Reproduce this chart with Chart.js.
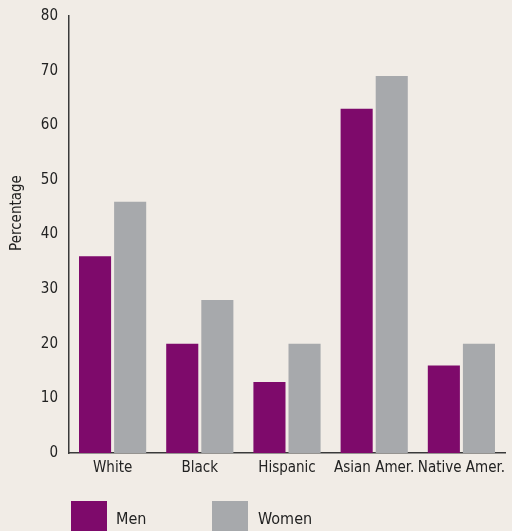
<!DOCTYPE html>
<html>
<head>
<meta charset="utf-8">
<script src="https://cdn.jsdelivr.net/npm/chart.js@4"></script>
<style>
  html, body { margin: 0; padding: 0; background: #f1ece6; overflow: hidden; }
  #wrap { position: relative; width: 512px; height: 531px; }
</style>
</head>
<body>
<div id="wrap"><canvas id="chart"></canvas></div>
<script>
const categories = ['White', 'Black', 'Hispanic', 'Asian Amer.', 'Native Amer.'];
const menValues = [36, 20, 13, 63, 16];
const womenValues = [46, 28, 20, 69, 20];
const yTicks = [0, 10, 20, 30, 40, 50, 60, 70, 80];

const FONT = '"DejaVu Sans Condensed", "Liberation Sans Narrow", sans-serif';
const purple = '#7e0a6b';
const grey = '#a7a9ac';

// axis title sits a bit above the middle, and the legend squares run off the bottom edge
const extras = {
    id: 'extras',
    afterDraw(chart) {
        const c = chart.ctx;
        c.save();
        c.fillStyle = '#222';
        c.font = '15px ' + FONT;
        c.textAlign = 'center';
        c.textBaseline = 'middle';
        c.translate(17, 213);
        c.rotate(-Math.PI / 2);
        c.fillText('Percentage', 0, 0);
        c.restore();

        const spots = [{ box: 71, text: 116 }, { box: 212, text: 258 }];
        c.save();
        chart.data.datasets.forEach((ds, i) => {
            const s = spots[i];
            c.fillStyle = ds.backgroundColor;
            c.fillRect(s.box, 501, 36, 38);
            c.fillStyle = '#222';
            c.font = '16px ' + FONT;
            c.textBaseline = 'middle';
            c.fillText(ds.label, s.text, 520);
        });
        c.restore();
    }
};

const ctx = document.getElementById('chart').getContext('2d');
new Chart(ctx, {
    type: 'bar',
    data: {
        labels: categories,
        datasets: [
            { label: 'Men', data: menValues, backgroundColor: purple },
            { label: 'Women', data: womenValues, backgroundColor: grey }
        ]
    },
    options: {
        responsive: true,
        maintainAspectRatio: false,
        animation: false,
        datasets: {
            bar: { categoryPercentage: 0.805, barPercentage: 0.914 }
        },
        layout: { padding: { left: 8, right: 7, top: 16, bottom: 48 } },
        scales: {
            x: {
                grid: { display: false, drawTicks: false },
                border: { color: '#3a3a3a', width: 1.5 },
                ticks: { color: '#222', font: { family: FONT, size: 15 }, padding: 6, maxRotation: 0, autoSkip: false }
            },
            y: {
                min: 0,
                max: 80,
                afterBuildTicks: (axis) => { axis.ticks = yTicks.map(v => ({ value: v })); },
                afterFit: (axis) => { axis.width = 61; axis.paddingTop = 7; },
                grid: { display: false, drawTicks: false },
                border: { color: '#3a3a3a', width: 1.5 },
                ticks: { color: '#222', font: { family: FONT, size: 15 }, padding: 11 }
            }
        },
        plugins: {
            legend: { display: false },
            tooltip: { enabled: false }
        }
    },
    plugins: [extras]
});
</script>
</body>
</html>
